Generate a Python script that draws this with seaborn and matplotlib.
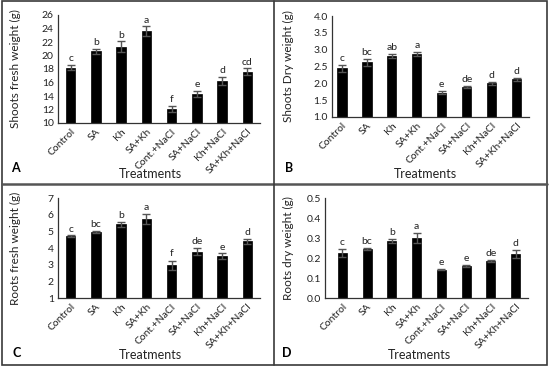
import matplotlib
matplotlib.use("Agg")
import matplotlib.pyplot as plt
import seaborn as sns
import pandas as pd
from matplotlib.patches import Rectangle
from matplotlib.lines import Line2D

sns.set_theme(style="white")
plt.rcParams['font.family'] = ['Lato', 'DejaVu Sans']

categories = ["Control", "SA", "Kh", "SA+Kh", "Cont.+NaCl", "SA+NaCl", "Kh+NaCl", "SA+Kh+NaCl"]

shoot_fresh = [18.2, 20.6, 21.3, 23.6, 12.1, 14.3, 16.2, 17.6]
shoot_fresh_err = [0.4, 0.4, 0.8, 0.7, 0.4, 0.5, 0.6, 0.5]
shoot_fresh_letters = ["c", "b", "b", "a", "f", "e", "d", "cd"]

shoot_dry = [2.45, 2.62, 2.82, 2.87, 1.72, 1.88, 2.00, 2.12]
shoot_dry_err = [0.10, 0.10, 0.06, 0.06, 0.05, 0.03, 0.05, 0.04]
shoot_dry_letters = ["c", "bc", "ab", "a", "e", "de", "d", "d"]

root_fresh = [4.70, 4.97, 5.42, 5.72, 2.95, 3.77, 3.52, 4.40]
root_fresh_err = [0.05, 0.07, 0.15, 0.30, 0.30, 0.20, 0.15, 0.15]
root_fresh_letters = ["c", "bc", "b", "a", "f", "de", "e", "d"]

root_dry = [0.225, 0.245, 0.285, 0.298, 0.142, 0.160, 0.185, 0.220]
root_dry_err = [0.020, 0.003, 0.010, 0.025, 0.004, 0.006, 0.005, 0.018]
root_dry_letters = ["c", "bc", "b", "a", "e", "e", "de", "d"]

W, H = 550, 369
fig = plt.figure(figsize=(5.5, 3.69), dpi=100)

def px_axes(left, top, right, bottom):
    return fig.add_axes([left / W, 1 - bottom / H, (right - left) / W, (bottom - top) / H])

panels = [
    dict(vals=shoot_fresh, err=shoot_fresh_err, let=shoot_fresh_letters, ylabel="Shoots fresh weight (g)",
         box=(58, 15, 260, 123), ylim=(10, 26), ticks=[10, 12, 14, 16, 18, 20, 22, 24, 26], fmt="{:.0f}",
         xl=-0.5, tag="A", tagpos=(15, 168), tpos=(150, 174), ylx=15, off=0.25),
    dict(vals=shoot_dry, err=shoot_dry_err, let=shoot_dry_letters, ylabel="Shoots Dry weight (g)",
         box=(332, 16, 529, 117), ylim=(1.0, 4.0), ticks=[1.0, 1.5, 2.0, 2.5, 3.0, 3.5, 4.0], fmt="{:.1f}",
         xl=-0.4, tag="B", tagpos=(289, 168), tpos=(425, 174), ylx=288, off=0.06),
    dict(vals=root_fresh, err=root_fresh_err, let=root_fresh_letters, ylabel="Roots fresh weight (g)",
         box=(58, 198, 260, 298), ylim=(1, 7), ticks=[1, 2, 3, 4, 5, 6, 7], fmt="{:.0f}",
         xl=-0.5, tag="C", tagpos=(17, 353), tpos=(150, 355), ylx=15, off=0.12),
    dict(vals=root_dry, err=root_dry_err, let=root_dry_letters, ylabel="Roots dry weight (g)",
         box=(325, 198, 528, 298), ylim=(0.0, 0.5), ticks=[0.0, 0.1, 0.2, 0.3, 0.4, 0.5], fmt="{:.1f}",
         xl=-0.7, tag="D", tagpos=(287, 353), tpos=(419, 355), ylx=288, off=0.01),
]

for p in panels:
    ax = px_axes(*p["box"])
    df = pd.DataFrame({"Treatment": categories, "Value": p["vals"]})
    sns.barplot(data=df, x="Treatment", y="Value", color="black", width=0.37,
                edgecolor="black", linewidth=0.5, errorbar=None, ax=ax, saturation=1)
    ax.errorbar(range(len(categories)), p["vals"], yerr=p["err"], fmt="none",
                ecolor="#555555", elinewidth=1.0, capsize=3.0, capthick=1.0)
    for i, (v, e, l) in enumerate(zip(p["vals"], p["err"], p["let"])):
        ax.text(i, v + e + p["off"], l, ha="center", va="bottom", fontsize=7.5, color="#222222")
    ax.set_ylim(*p["ylim"])
    ax.set_xlim(p["xl"], 7.5)
    ax.set_yticks(p["ticks"])
    ax.set_yticklabels([p["fmt"].format(t) for t in p["ticks"]], fontsize=7.5, color="#222222")
    ax.set_xticks(range(len(categories)))
    ax.set_xticklabels(categories, rotation=45, ha="right", rotation_mode="anchor", fontsize=7.5, color="#222222")
    ax.tick_params(axis="both", length=0, pad=3)
    ax.set_xlabel("")
    ax.set_ylabel("")
    for s in ["top", "right"]:
        ax.spines[s].set_visible(False)
    for s in ["left", "bottom"]:
        ax.spines[s].set_color("#333333")
        ax.spines[s].set_linewidth(0.9)
    cy = (p["box"][1] + p["box"][3]) / 2
    fig.text(p["ylx"] / W, 1 - cy / H, p["ylabel"], rotation=90, ha="center", va="center", fontsize=8.5, color="#222222")
    fig.text(p["tpos"][0] / W, 1 - p["tpos"][1] / H, "Treatments", ha="center", va="center", fontsize=9, color="#222222")
    fig.text(p["tagpos"][0] / W, 1 - p["tagpos"][1] / H, p["tag"], ha="center", va="center", fontsize=9, fontweight="bold", color="black")

# panel frames
frame_col = "#3a3a3a"
fig.add_artist(Rectangle((2 / W, 1 - 365 / H), 545 / W, 364 / H, transform=fig.transFigure,
                         fill=False, edgecolor=frame_col, linewidth=1.2))
fig.add_artist(Line2D([2 / W, 547 / W], [1 - 183.5 / H, 1 - 183.5 / H], transform=fig.transFigure,
                      color="#555555", linewidth=1.8))
fig.add_artist(Line2D([274 / W, 274 / W], [1 - 1 / H, 1 - 365 / H], transform=fig.transFigure,
                      color=frame_col, linewidth=1.2))

fig.savefig("out.png", dpi=100, facecolor="white")
